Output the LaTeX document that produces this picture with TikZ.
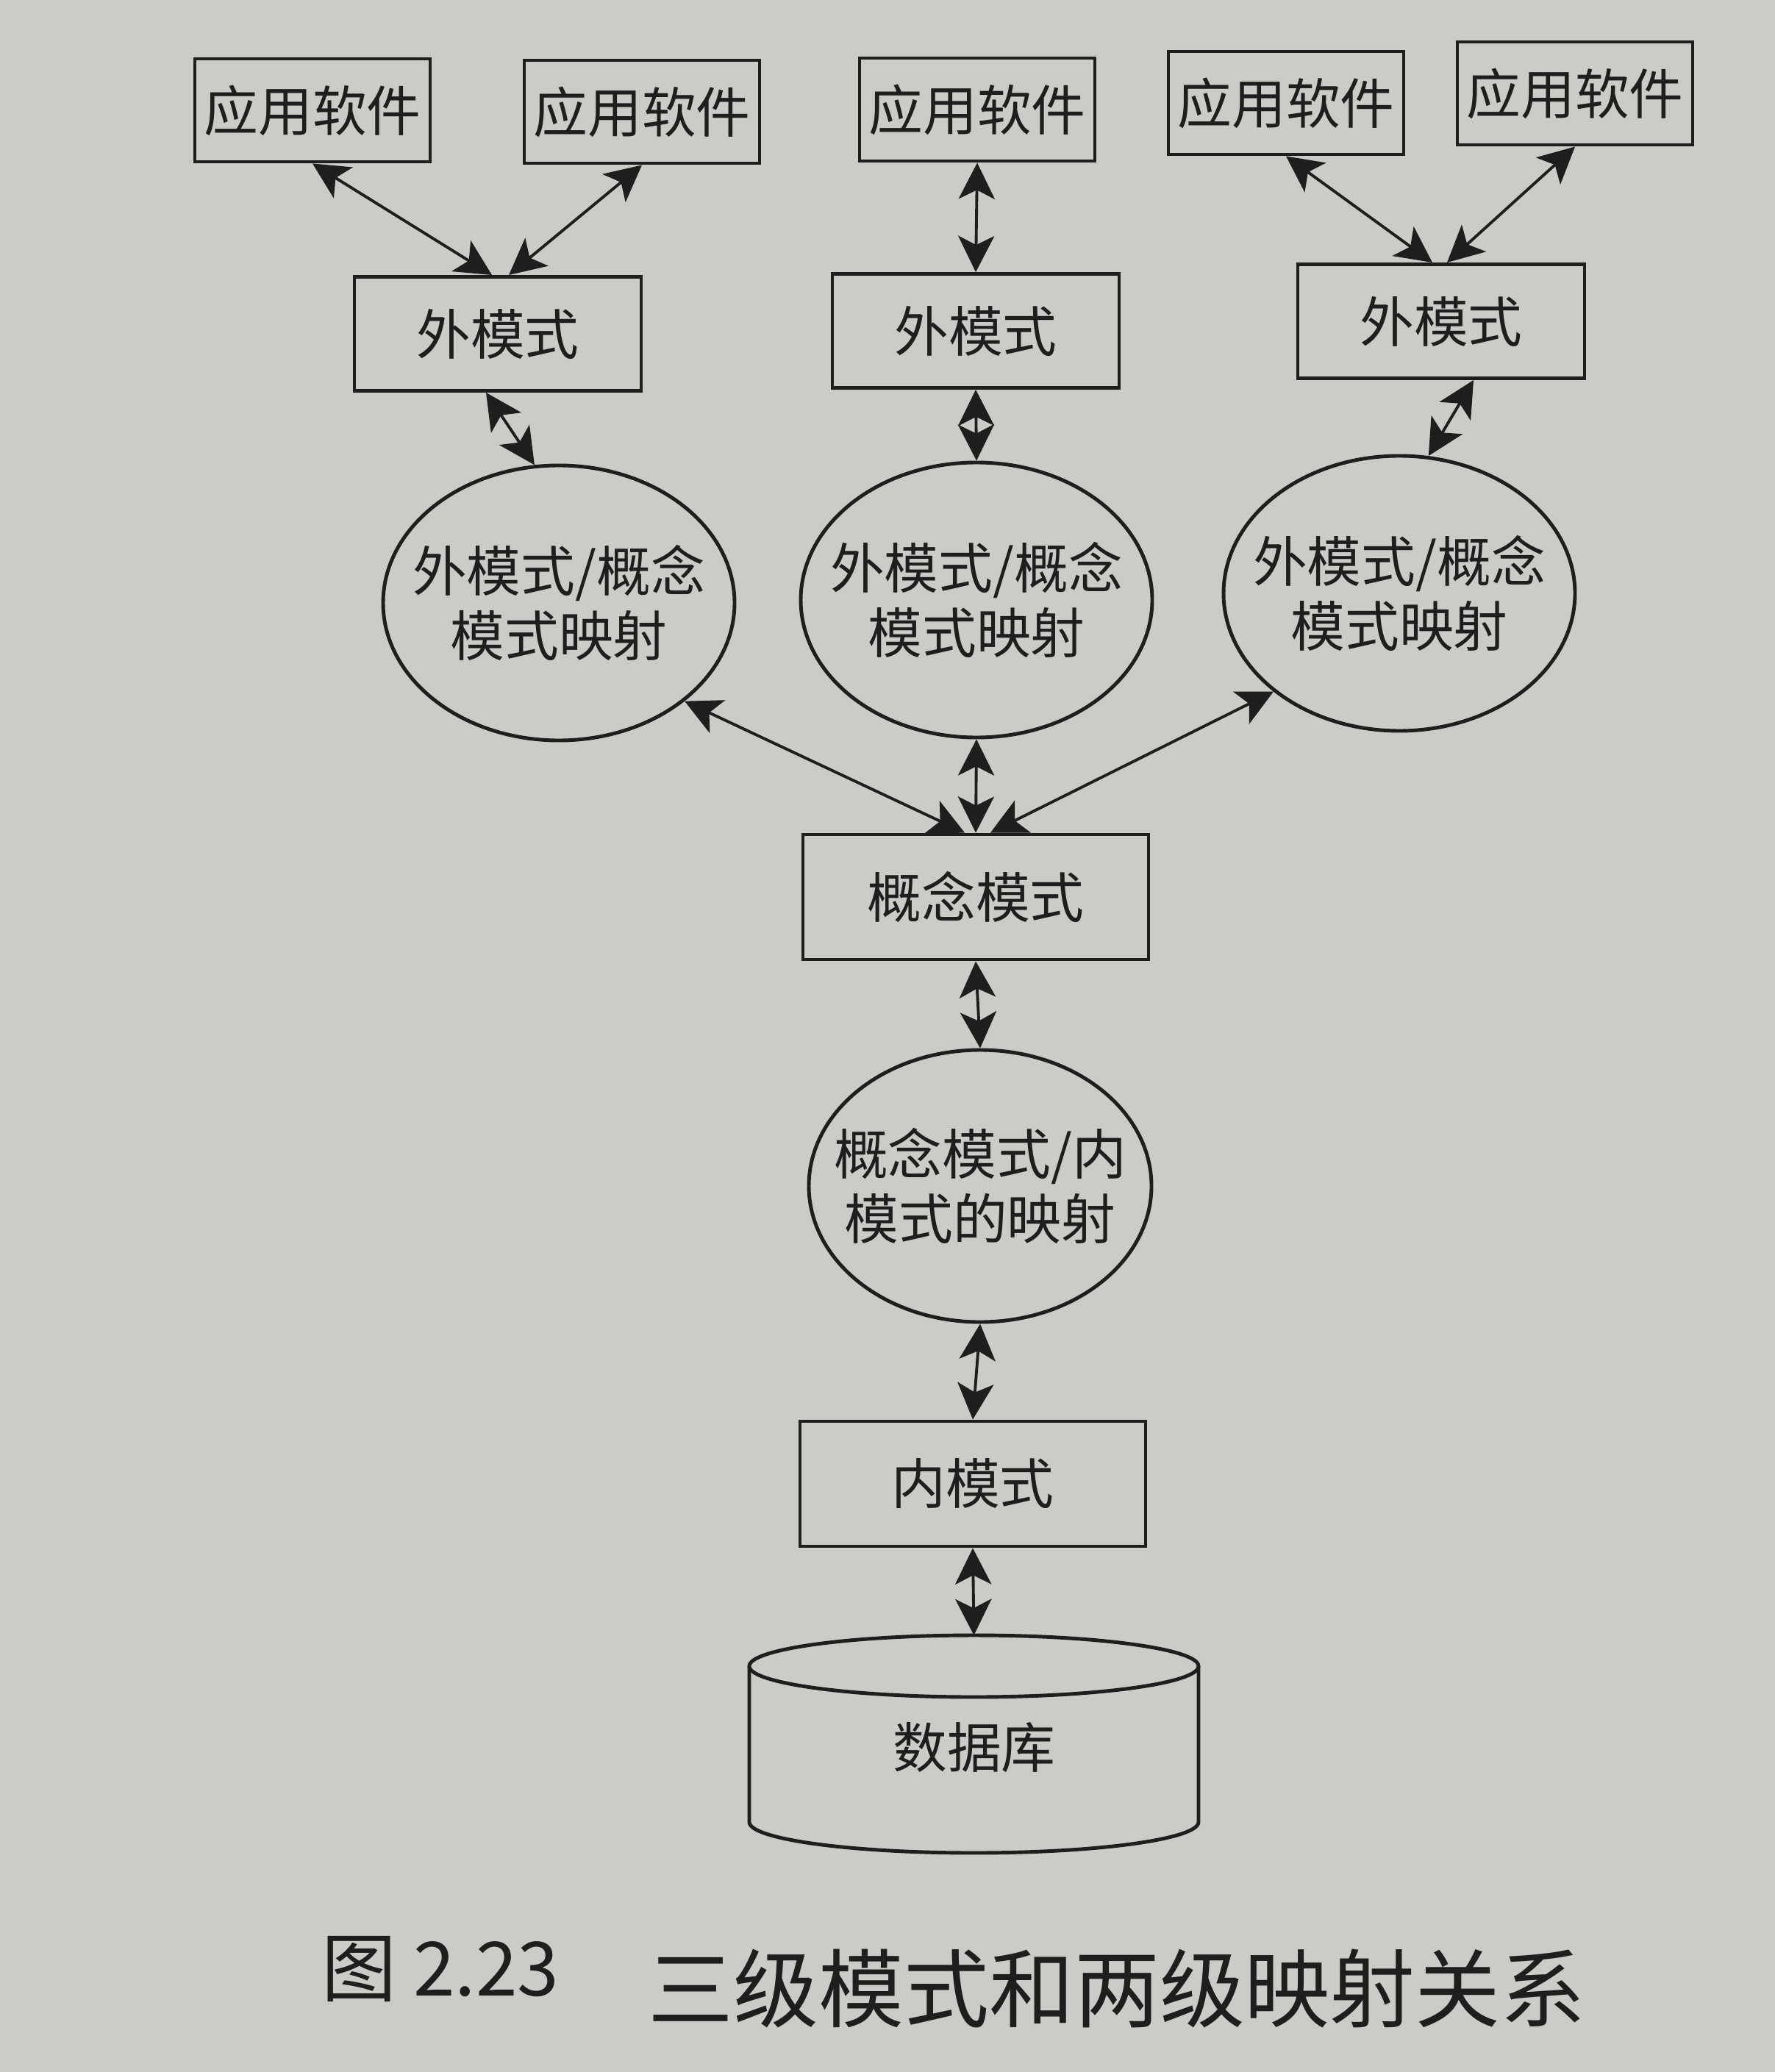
\documentclass[tikz,border=0pt]{standalone}
\usepackage{fontspec}
\setmainfont{Noto Sans CJK SC}
\usetikzlibrary{arrows.meta,shapes.geometric}
\definecolor{paper}{RGB}{203,203,200}
\definecolor{ink}{RGB}{30,30,30}

\begin{document}
\begin{tikzpicture}[
  every node/.style={text=ink, font=\fontsize{21}{25}\selectfont},
  appbox/.style={draw=ink, line width=1.4pt, minimum width=3.2cm, minimum height=1.4cm, inner sep=0pt},
  extbox/.style={draw=ink, line width=1.4pt, minimum width=3.9cm, minimum height=1.55cm, inner sep=0pt},
  bigbox/.style={draw=ink, line width=1.4pt, minimum width=4.7cm, minimum height=1.7cm, inner sep=0pt},
  mapping/.style={ellipse, draw=ink, line width=1.4pt, minimum width=4.78cm, minimum height=3.74cm, inner sep=0pt},
  link/.style={{Stealth[length=14pt,width=14pt,inset=3.5pt]}-{Stealth[length=14pt,width=14pt,inset=3.5pt]}, draw=ink, line width=1.1pt}
]
\fill[paper] (0,0) rectangle (24.14,-28.18);
\useasboundingbox (0,0) rectangle (24.14,-28.18);

\node[appbox] (app1) at (4.25,-1.50) {应用软件};
\node[appbox] (app2) at (8.73,-1.52) {应用软件};
\node[appbox] (app3) at (13.29,-1.49) {应用软件};
\node[appbox] (app4) at (17.49,-1.40) {应用软件};
\node[appbox] (app5) at (21.42,-1.27) {应用软件};

\node[extbox] (ext1) at (6.77,-4.54) {外模式};
\node[extbox] (ext2) at (13.27,-4.50) {外模式};
\node[extbox] (ext3) at (19.60,-4.37) {外模式};

\node[mapping, label={[align=center]center:外模式/概念\\模式映射}] (ell1) at (7.60,-8.20) {};
\node[mapping, label={[align=center]center:外模式/概念\\模式映射}] (ell2) at (13.28,-8.16) {};
\node[mapping, label={[align=center]center:外模式/概念\\模式映射}] (ell3) at (19.03,-8.07) {};

\node[bigbox] (concept) at (13.27,-12.20) {概念模式};
\node[mapping, minimum width=4.66cm, minimum height=3.7cm, label={[align=center]center:概念模式/内\\模式的映射}] (ell4) at (13.33,-16.13) {};
\node[bigbox] (inner) at (13.23,-20.18) {内模式};

\draw[draw=ink, line width=1.4pt] (10.19,-22.66) -- (10.19,-24.78) arc[start angle=180, end angle=360, x radius=3.055cm, y radius=0.42cm] -- (16.30,-22.66);
\draw[draw=ink, line width=1.4pt] (13.245,-22.66) ellipse[x radius=3.055cm, y radius=0.42cm];
\coordinate (dbtop) at (13.245,-22.24);
\node (db) at (13.25,-23.77) {数据库};

\draw[link] (app1.south) -- ([xshift=-0.08cm]ext1.north);
\draw[link] (app2.south) -- ([xshift=0.15cm]ext1.north);
\draw[link] (app3.south) -- (ext2.north);
\draw[link] (app4.south) -- ([xshift=-0.12cm]ext3.north);
\draw[link] (app5.south) -- ([xshift=0.08cm]ext3.north);

\draw[link] ([xshift=-0.16cm]ext1.south) -- (ell1.100);
\draw[link] (ext2.south) -- (ell2.north);
\draw[link] ([xshift=0.44cm]ext3.south) -- (ell3.78);

\draw[link] (ell1.-38) -- ([xshift=-0.15cm]concept.north);
\draw[link] (ell2.south) -- (concept.north);
\draw[link] (ell3.-142) -- ([xshift=0.2cm]concept.north);

\draw[link] (concept.south) -- (ell4.north);
\draw[link] (ell4.south) -- (inner.north);
\draw[link] (inner.south) -- (dbtop);

\node[font=\fontsize{29}{34}\selectfont] (fignum) at (5.99,-26.78) {图 2.23};
\node[font=\fontsize{33}{38}\selectfont] (figtitle) at (15.19,-27.05) {三级模式和两级映射关系};
\end{tikzpicture}
\end{document}
